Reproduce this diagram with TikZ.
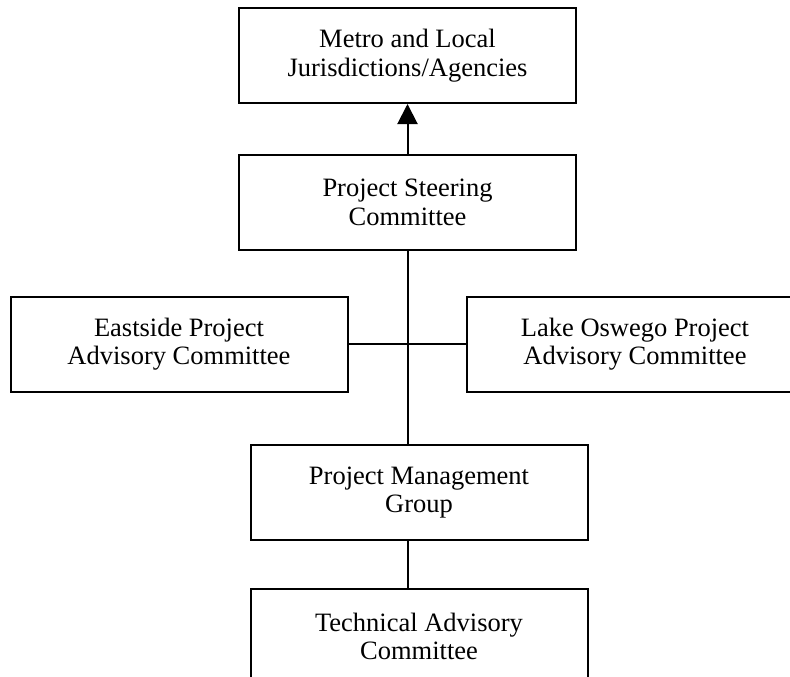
\documentclass[tikz,border=0pt]{standalone}
\usepackage{fontspec}
\setmainfont{Liberation Serif}
\usetikzlibrary{positioning,arrows.meta}
\begin{document}
\begin{tikzpicture}[x=1pt, y=1pt, node distance={50pt}, line width=2pt,
	main/.style = {draw, rectangle, align=center, inner sep=0pt, minimum width=337pt, minimum height=95pt, font=\fontsize{26.5}{28.5}\selectfont},
	up/.style = {-{Triangle[width=20pt, length=20pt]}}]
		\useasboundingbox (0,0) rectangle (790,-677);
		\node[main] (metro) at (407.5,-55.5) {Metro and Local\\Jurisdictions/Agencies};
		\node[main] (steer) [below=50pt of metro] {Project Steering\\Committee};
		\node[main] (east) at (179,-344) {Eastside Project\\Advisory Committee};
		\node[main] (lake) at (635,-344) {Lake Oswego Project\\Advisory Committee};
		\node[main] (mgmt) [below=193pt of steer, xshift=11.5pt] {Project Management\\Group};
		\node[main] (tech) [below=47pt of mgmt] {Technical Advisory\\Committee};
		\path
		(steer) edge[up] (metro)
		(steer.south) edge (steer.south |- mgmt.north)
		(east) edge (lake)
		(mgmt.south -| steer.south) edge (tech.north -| steer.south);
	\end{tikzpicture}
\end{document}
